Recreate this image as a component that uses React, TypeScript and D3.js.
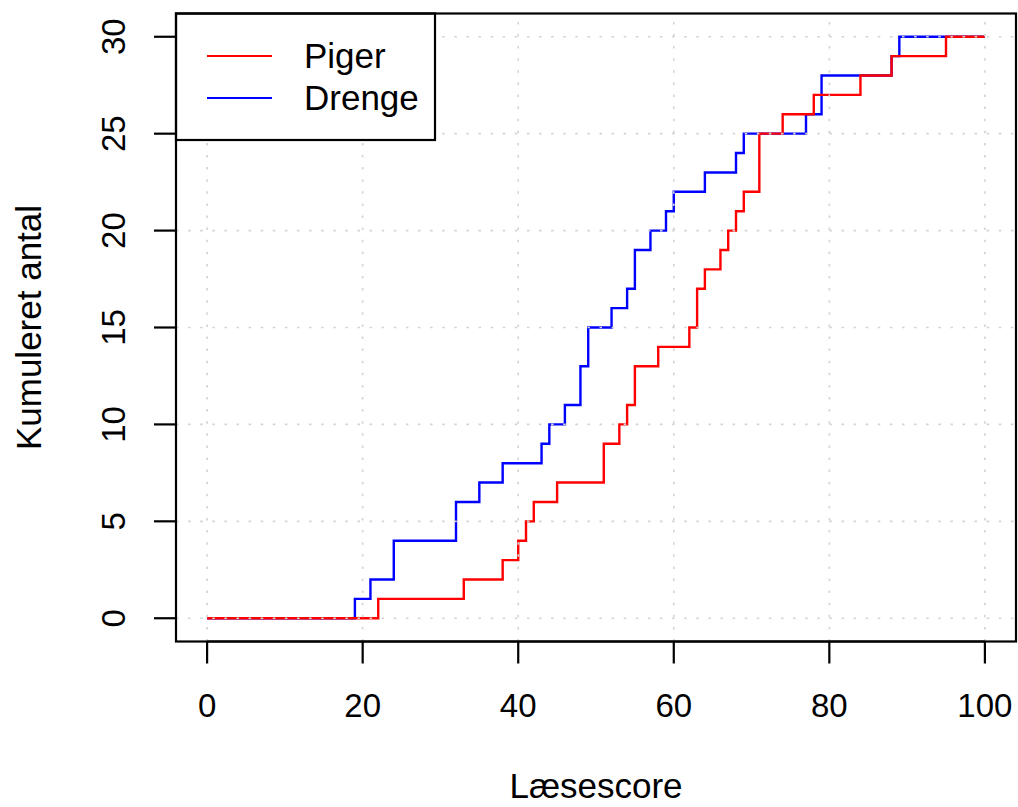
import React from "react";
import * as d3 from "d3";

const piger_x = [0, 22, 33, 38, 40, 41, 42, 45, 51, 53, 54, 55, 58, 62, 63, 64, 66, 67, 68, 69, 71, 74, 78, 84, 88, 95, 100];
const piger_y = [0, 1, 2, 3, 4, 5, 6, 7, 9, 10, 11, 13, 14, 15, 17, 18, 19, 20, 21, 22, 25, 26, 27, 28, 29, 30, 30];
const drenge_x = [0, 19, 21, 24, 32, 35, 38, 43, 44, 46, 48, 49, 52, 54, 55, 57, 59, 60, 64, 68, 69, 77, 79, 88, 89, 100];
const drenge_y = [0, 1, 2, 4, 6, 7, 8, 9, 10, 11, 13, 15, 16, 17, 19, 20, 21, 22, 23, 24, 25, 26, 28, 29, 30, 30];
const xTicks = [0, 20, 40, 60, 80, 100];
const yTicks = [0, 5, 10, 15, 20, 25, 30];
const legendLabels = ["Piger", "Drenge"];
const seriesColors = ["#FF0000", "#0000FF"];

export default function App() {
  const W = 1018, H = 807;
  const x = d3.scaleLinear().domain([-4, 104]).range([176, 1016]);
  const y = d3.scaleLinear().domain([-1.2, 31.2]).range([641.5, 13.5]);
  const [x0, x1] = x.range();
  const [yb, yt] = y.range();
  const line = d3.line<[number, number]>()
    .x(d => x(d[0]))
    .y(d => y(d[1]))
    .curve(d3.curveStepAfter);
  const pig = piger_x.map((v, i) => [v, piger_y[i]] as [number, number]);
  const dre = drenge_x.map((v, i) => [v, drenge_y[i]] as [number, number]);
  const font = "'Liberation Sans', Arial, Helvetica, sans-serif";
  const fs = 35;
  const fsTick = 33;
  return (
    <svg width={W} height={H} style={{ position: "absolute", left: 0, top: 0, background: "#fff" }} fontFamily={font}>
      <rect x={0} y={0} width={W} height={H} fill="#fff" />
      <path d={line(dre) || ""} fill="none" stroke={seriesColors[1]} strokeWidth={2.4} />
      <path d={line(pig) || ""} fill="none" stroke={seriesColors[0]} strokeWidth={2.4} />
      {/* grid drawn on top */}
      {xTicks.map(t => (
        <line key={"gx" + t} x1={x(t)} x2={x(t)} y1={yb} y2={yt} stroke="#d3d3d3" strokeWidth={1.6} strokeDasharray="2.5 9.6" />
      ))}
      {yTicks.map(t => (
        <line key={"gy" + t} x1={x0} x2={x1} y1={y(t)} y2={y(t)} stroke="#d3d3d3" strokeWidth={1.6} strokeDasharray="2.5 9.6" />
      ))}
      {/* legend */}
      <rect x={x0} y={yt} width={259} height={126.5} fill="#fff" stroke="#000" strokeWidth={2.2} />
      {legendLabels.map((l, i) => (
        <g key={l}>
          <line x1={207} x2={272} y1={56 + i * 42} y2={56 + i * 42} stroke={seriesColors[i]} strokeWidth={2.2} />
          <text x={304} y={68 + i * 42} fontSize={fs} fill="#000">{l}</text>
        </g>
      ))}
      {/* box */}
      <rect x={x0} y={yt} width={x1 - x0} height={yb - yt} fill="none" stroke="#000" strokeWidth={2.2} />
      {/* x axis */}
      <line x1={x(0)} x2={x(100)} y1={yb} y2={yb} stroke="#000" strokeWidth={2.2} />
      {xTicks.map(t => (
        <g key={"xt" + t}>
          <line x1={x(t)} x2={x(t)} y1={yb} y2={yb + 22} stroke="#000" strokeWidth={2.2} />
          <text x={x(t)} y={717} fontSize={fsTick} textAnchor="middle" fill="#000">{t}</text>
        </g>
      ))}
      {yTicks.map(t => (
        <g key={"yt" + t}>
          <line x1={x0} x2={x0 - 22} y1={y(t)} y2={y(t)} stroke="#000" strokeWidth={2.2} />
          <text transform={`translate(125,${y(t)}) rotate(-90)`} fontSize={fsTick} textAnchor="middle" fill="#000">{t}</text>
        </g>
      ))}
      <text x={(x0 + x1) / 2} y={798} fontSize={fs} textAnchor="middle" fill="#000">Læsescore</text>
      <text transform={`translate(41,${(yt + yb) / 2}) rotate(-90)`} fontSize={fs} textAnchor="middle" fill="#000">Kumuleret antal</text>
    </svg>
  );
}
